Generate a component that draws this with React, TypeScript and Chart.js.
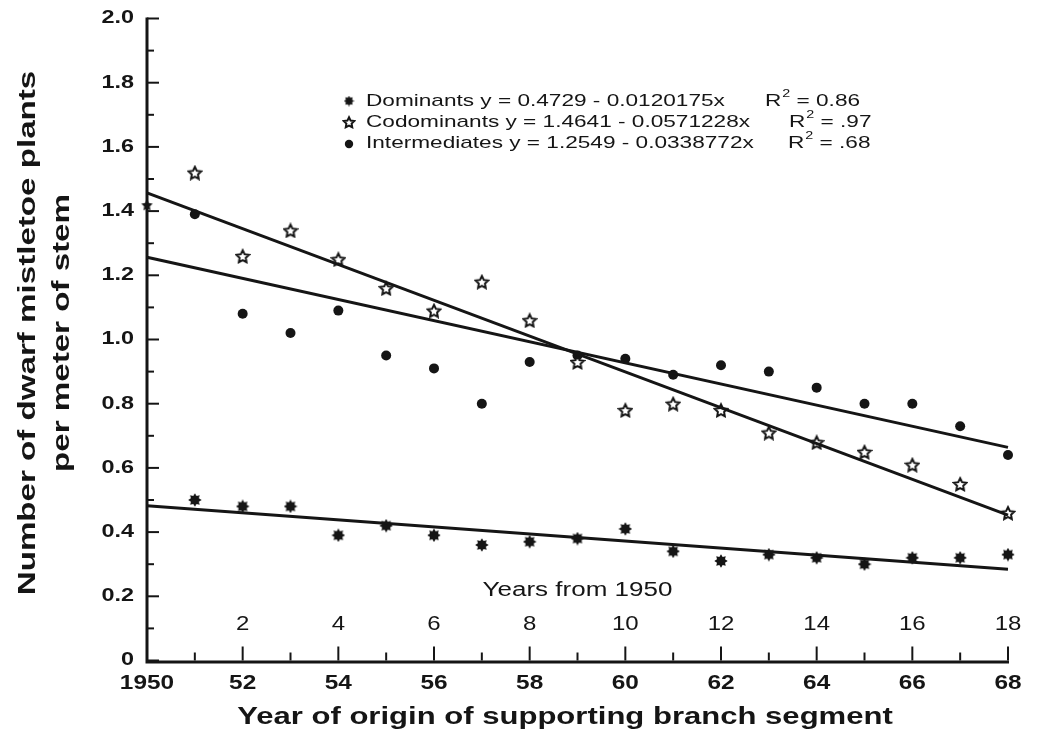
import React, { useEffect, useRef } from "react";
import { Chart, registerables } from "chart.js";

Chart.register(...registerables);

// ---- Data ----
const pointYears = [1951, 1952, 1953, 1954, 1955, 1956, 1957, 1958, 1959, 1960, 1961, 1962, 1963, 1964, 1965, 1966, 1967, 1968];
const dominants = [0.5, 0.48, 0.48, 0.39, 0.42, 0.39, 0.36, 0.37, 0.38, 0.41, 0.34, 0.31, 0.33, 0.32, 0.3, 0.32, 0.32, 0.33];
const codominantYears = [1950, 1951, 1952, 1953, 1954, 1955, 1956, 1957, 1958, 1959, 1960, 1961, 1962, 1963, 1964, 1965, 1966, 1967, 1968];
const codominants = [1.42, 1.52, 1.26, 1.34, 1.25, 1.16, 1.09, 1.18, 1.06, 0.93, 0.78, 0.8, 0.78, 0.71, 0.68, 0.65, 0.61, 0.55, 0.46];
const intermediates = [1.39, 1.08, 1.02, 1.09, 0.95, 0.91, 0.8, 0.93, 0.95, 0.94, 0.89, 0.92, 0.9, 0.85, 0.8, 0.8, 0.73, 0.64];

const fitYears = [1950, 1968];
const dominantFit = [0.482, 0.284];
const codominantFit = [1.457, 0.453];
const intermediateFit = [1.256, 0.664];

const yMajorTicks = [0, 0.2, 0.4, 0.6, 0.8, 1.0, 1.2, 1.4, 1.6, 1.8, 2.0];
const yTickLabels = ["0", "0.2", "0.4", "0.6", "0.8", "1.0", "1.2", "1.4", "1.6", "1.8", "2.0"];
const yMinorTicks = [0.1, 0.3, 0.5, 0.7, 0.9, 1.1, 1.3, 1.5, 1.7, 1.9];
const xTickYears = [1950, 1951, 1952, 1953, 1954, 1955, 1956, 1957, 1958, 1959, 1960, 1961, 1962, 1963, 1964, 1965, 1966, 1967, 1968];
const xLabelYears = [1950, 1952, 1954, 1956, 1958, 1960, 1962, 1964, 1966, 1968];
const xTickLabels = ["1950", "52", "54", "56", "58", "60", "62", "64", "66", "68"];
const offsetYears = [1952, 1954, 1956, 1958, 1960, 1962, 1964, 1966, 1968];
const offsetLabels = ["2", "4", "6", "8", "10", "12", "14", "16", "18"];

const legendNames = ["Dominants y = 0.4729 - 0.0120175x", "Codominants y = 1.4641 - 0.0571228x", "Intermediates y = 1.2549 - 0.0338772x"];
const legendR2 = [" = 0.86", " = .97", " = .68"];

const INK = "#151515";
const FONT = "'Liberation Sans', Arial, Helvetica, sans-serif";

function makeAsterisk(size: number) {
  const c = document.createElement("canvas");
  c.width = size;
  c.height = size;
  const g = c.getContext("2d")!;
  const r = size / 2;
  g.translate(r, r);
  g.beginPath();
  for (let i = 0; i < 16; i++) {
    const a = (i * Math.PI) / 8 - Math.PI / 2;
    const rr = i % 2 === 0 ? r - 0.3 : r * 0.62;
    g.lineTo(Math.cos(a) * rr, Math.sin(a) * rr);
  }
  g.closePath();
  g.fillStyle = INK;
  g.fill();
  return c;
}

function makeStar(size: number, filled: boolean) {
  const c = document.createElement("canvas");
  c.width = size;
  c.height = size;
  const g = c.getContext("2d")!;
  const r = size / 2 - 1.5;
  g.translate(size / 2, size / 2 + 0.8);
  g.beginPath();
  for (let i = 0; i < 10; i++) {
    const a = (i * Math.PI) / 5 - Math.PI / 2;
    const rr = i % 2 === 0 ? r : r * 0.5;
    g.lineTo(Math.cos(a) * rr, Math.sin(a) * rr);
  }
  g.closePath();
  g.lineJoin = "miter";
  if (filled) {
    g.fillStyle = INK;
    g.fill();
  } else {
    g.fillStyle = "#fff";
    g.fill();
    g.lineWidth = 2;
    g.strokeStyle = INK;
    g.stroke();
  }
  return c;
}

function txt(
  ctx: CanvasRenderingContext2D,
  s: string,
  x: number,
  y: number,
  font: string,
  align: "left" | "right" | "center",
  stretch: number
) {
  ctx.save();
  ctx.font = font;
  ctx.textBaseline = "middle";
  ctx.textAlign = "left";
  const w = ctx.measureText(s).width * stretch;
  const x0 = align === "left" ? x : align === "right" ? x - w : x - w / 2;
  ctx.translate(x0, y);
  ctx.scale(stretch, 1);
  ctx.fillStyle = INK;
  ctx.fillText(s, 0, 0);
  ctx.restore();
  return w;
}

const App = () => {
  const ref = useRef<HTMLCanvasElement>(null);

  useEffect(() => {
    const canvas = ref.current!;
    const asterisk = makeAsterisk(14);
    const openStar = makeStar(16, false);
    const filledStar = makeStar(15, true);
    const smallAsterisk = makeAsterisk(11);
    const smallStar = makeStar(14, false);

    const codStyles = codominantYears.map((_, i) => (i === 0 ? filledStar : openStar));

    const axesPlugin = {
      id: "paperAxes",
      beforeDatasetsDraw(chart: any) {
        const ctx = chart.ctx as CanvasRenderingContext2D;
        const xs = chart.scales.x;
        const ys = chart.scales.y;
        const { left, right, top, bottom } = chart.chartArea;
        ctx.save();
        ctx.strokeStyle = INK;
        ctx.lineCap = "butt";
        ctx.lineWidth = 3;
        ctx.beginPath();
        ctx.moveTo(left, top - 1);
        ctx.lineTo(left, bottom + 1.5);
        ctx.lineTo(right + 1, bottom + 1.5);
        ctx.stroke();
        ctx.lineWidth = 2;
        yMajorTicks.forEach((v) => {
          const py = ys.getPixelForValue(v);
          ctx.beginPath();
          ctx.moveTo(left, py);
          ctx.lineTo(left + 12, py);
          ctx.stroke();
        });
        yMinorTicks.forEach((v) => {
          const py = ys.getPixelForValue(v);
          ctx.beginPath();
          ctx.moveTo(left, py);
          ctx.lineTo(left + 7, py);
          ctx.stroke();
        });
        xTickYears.forEach((yr) => {
          const px = xs.getPixelForValue(yr);
          const len = yr % 2 === 0 ? 14 : 8;
          if (yr === 1950) return;
          ctx.beginPath();
          ctx.moveTo(px, bottom);
          ctx.lineTo(px, bottom - len);
          ctx.stroke();
        });
        ctx.restore();
      },
      afterDraw(chart: any) {
        const ctx = chart.ctx as CanvasRenderingContext2D;
        const xs = chart.scales.x;
        const ys = chart.scales.y;
        const { left, bottom } = chart.chartArea;
        const boldTick = `bold 18px ${FONT}`;
        yMajorTicks.forEach((v, i) => {
          txt(ctx, yTickLabels[i], left - 13, ys.getPixelForValue(v), boldTick, "right", 1.3);
        });
        const boldX = `bold 20px ${FONT}`;
        xLabelYears.forEach((yr, i) => {
          txt(ctx, xTickLabels[i], xs.getPixelForValue(yr), bottom + 23, boldX, "center", 1.22);
        });
        const regX = `20px ${FONT}`;
        offsetYears.forEach((yr, i) => {
          txt(ctx, offsetLabels[i], xs.getPixelForValue(yr), bottom - 36, regX, "center", 1.2);
        });
        txt(ctx, "Years from 1950", xs.getPixelForValue(1959), bottom - 70, `20px ${FONT}`, "center", 1.3);

        txt(ctx, "Year of origin of supporting branch segment", 565, 718, `bold 23px ${FONT}`, "center", 1.35);
        const titleFont = `bold 24px ${FONT}`;
        ctx.save();
        ctx.translate(28, 333);
        ctx.rotate(-Math.PI / 2);
        txt(ctx, "Number of dwarf mistletoe plants", 0, 0, titleFont, "center", 1.38);
        ctx.restore();
        ctx.save();
        ctx.translate(62, 333);
        ctx.rotate(-Math.PI / 2);
        txt(ctx, "per meter of stem", 0, 0, titleFont, "center", 1.38);
        ctx.restore();

        const lf = `17px ${FONT}`;
        const rows = [101, 122, 143];
        const markers = [smallAsterisk, smallStar, null];
        rows.forEach((ry, i) => {
          const m = markers[i];
          if (m) {
            ctx.drawImage(m, 349 - m.width / 2, ry - m.height / 2);
          } else {
            ctx.beginPath();
            ctx.arc(349, ry + 1, 4.2, 0, Math.PI * 2);
            ctx.fillStyle = INK;
            ctx.fill();
          }
          txt(ctx, legendNames[i], 366, ry, lf, "left", 1.33);
        });
        const r2x = [765, 789, 788];
        rows.forEach((ry, i) => {
          const w = txt(ctx, "R", r2x[i], ry, lf, "left", 1.33);
          const w2 = txt(ctx, "2", r2x[i] + w + 1, ry - 7, `11px ${FONT}`, "left", 1.3);
          txt(ctx, legendR2[i], r2x[i] + w + w2 + 1, ry, lf, "left", 1.33);
        });
      },
    };

    const lineDs = (data: number[]) => ({
      type: "line" as const,
      data: fitYears.map((x, i) => ({ x, y: data[i] })),
      borderColor: INK,
      borderWidth: 3,
      pointRadius: 0,
      showLine: true,
      fill: false,
      clip: false as any,
    });

    const chart = new Chart(canvas, {
      type: "scatter",
      data: {
        datasets: [
          lineDs(dominantFit),
          lineDs(codominantFit),
          lineDs(intermediateFit),
          {
            label: "Dominants",
            data: pointYears.map((x, i) => ({ x, y: dominants[i] })),
            pointStyle: asterisk as any,
            pointRadius: 7,
            clip: false as any,
          },
          {
            label: "Codominants",
            data: codominantYears.map((x, i) => ({ x, y: codominants[i] })),
            pointStyle: codStyles as any,
            pointRadius: 7,
            clip: false as any,
          },
          {
            label: "Intermediates",
            data: pointYears.map((x, i) => ({ x, y: intermediates[i] })),
            pointStyle: "circle",
            pointRadius: 5,
            pointBackgroundColor: INK,
            pointBorderColor: INK,
            pointBorderWidth: 0,
            clip: false as any,
          },
        ] as any,
      },
      options: {
        responsive: false,
        animation: false,
        devicePixelRatio: 1,
        layout: { padding: { left: 147, right: 31, top: 18.5, bottom: 76.5 } },
        scales: {
          x: { type: "linear", min: 1950, max: 1968, display: false },
          y: { type: "linear", min: 0, max: 2, display: false },
        },
        plugins: { legend: { display: false }, tooltip: { enabled: false } },
        events: [],
      },
      plugins: [axesPlugin],
    });
    return () => chart.destroy();
  }, []);

  return (
    <div style={{ position: "absolute", left: 0, top: 0, width: 1039, height: 737, background: "#fff" }}>
      <canvas ref={ref} width={1039} height={737} style={{ width: 1039, height: 737, display: "block" }} />
    </div>
  );
};

export default App;
